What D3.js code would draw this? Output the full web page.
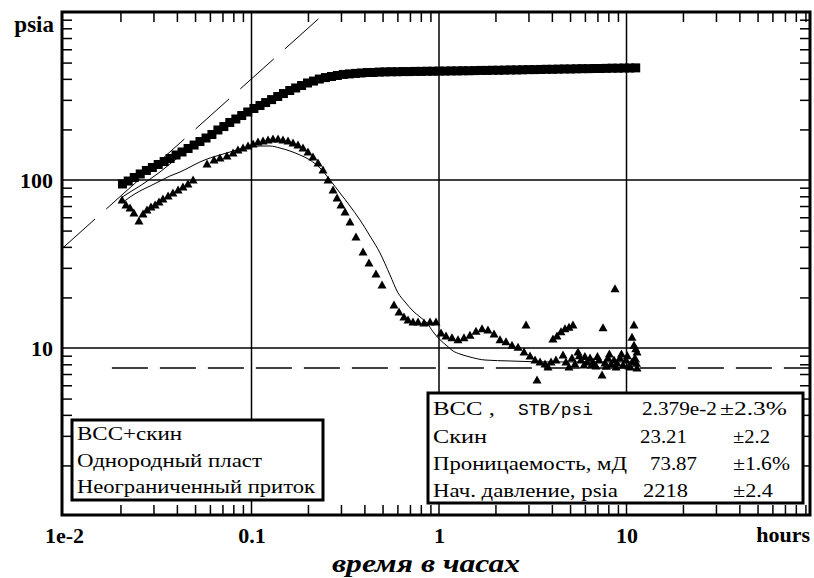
<!DOCTYPE html>
<html><head><meta charset="utf-8">
<script src="https://cdn.jsdelivr.net/npm/d3@7"></script>
<style>body{margin:0;background:#fff}svg{display:block}</style></head>
<body><svg id="c" width="814" height="578"></svg>
<script>
// ---------- DATA ----------
const pressureData = [[0.0205,94.7],[0.022,98.6],[0.0237,103.5],[0.0255,108.6],[0.0275,114],[0.0296,118.7],[0.0318,123.7],[0.0342,128.8],[0.0368,134.3],[0.0396,140.9],[0.0426,146.8],[0.0459,154],[0.0494,161.5],[0.0531,169.4],[0.0572,177.8],[0.0615,186.6],[0.0662,198.5],[0.0712,208],[0.0766,219.9],[0.0825,230.7],[0.0887,242],[0.0955,254],[0.103,266.5],[0.111,277.6],[0.119,289],[0.128,301],[0.138,314],[0.148,327],[0.160,341],[0.172,353],[0.185,365],[0.199,378],[0.214,388],[0.230,399],[0.248,407],[0.267,413],[0.287,419],[0.309,425],[0.333,428],[0.358,431],[0.385,433.5],[0.415,436.5],[0.446,436.5],[0.480,439],[0.517,440],[0.556,441],[0.598,441],[0.644,442],[0.693,442],[0.746,443],[0.802,443],[0.863,444],[0.929,444],[1.00,445],[1.08,445],[1.16,446],[1.25,446],[1.34,447],[1.44,447],[1.55,448],[1.67,449],[1.80,449],[1.93,450],[2.08,450],[2.24,451],[2.41,452],[2.59,452],[2.79,453],[3.00,454],[3.23,454],[3.48,455],[3.74,456],[4.03,456],[4.33,457],[4.66,458],[5.02,458],[5.40,459],[5.81,460],[6.25,460],[6.73,461],[7.24,461],[7.79,462],[8.38,463],[9.02,463],[9.71,464],[10.4,464],[11.2,465]];

const derivativeData = [[0.0204,76.0],[0.0214,71.0],[0.0225,68.1],[0.0236,63.6],[0.0251,57.0],[0.0264,62.8],[0.0277,66.3],[0.0291,69.1],[0.0306,71.0],[0.0321,74.0],[0.0337,77.1],[0.0359,80.3],[0.0381,83.7],[0.0406,87.2],[0.0431,90.8],[0.0458,94.7],[0.0488,100],[0.0579,124.5],[0.0631,131.5],[0.0679,135.2],[0.0740,139],[0.0797,144.8],[0.0847,150.9],[0.0901,155],[0.0958,159.3],[0.1019,163.8],[0.1083,168.4],[0.1152,170.7],[0.1225,173],[0.1302,175.4],[0.1385,175.4],[0.1472,173],[0.1566,170.7],[0.1665,166],[0.1770,161.6],[0.1882,155],[0.2001,146.8],[0.2128,137],[0.2263,126.3],[0.2406,114.7],[0.2559,100],[0.2721,87.2],[0.2858,78.1],[0.3001,71.0],[0.3154,64.5],[0.3352,56.2],[0.3608,45.8],[0.3933,37.3],[0.4233,32.1],[0.4613,27.6],[0.4966,23.7],[0.5754,18.0],[0.6119,16.4],[0.6506,15.3],[0.6834,14.7],[0.7266,14.3],[0.7727,14.3],[0.8318,14.1],[0.8954,14.3],[0.9638,14.3],[1.025,12.3],[1.090,11.8],[1.173,11.5],[1.263,11.2],[1.359,11.5],[1.463,11.9],[1.575,12.6],[1.696,13.0],[1.825,12.8],[1.965,12.1],[2.115,11.2],[2.277,10.9],[2.451,10.4],[2.639,10.1],[2.841,9.47],[2.911,13.7],[3.058,8.96],[3.251,8.48],[3.332,6.45],[3.457,8.26],[3.676,8.03],[3.814,7.71],[3.957,8.26],[4.055,11.3],[4.207,8.48],[4.259,11.8],[4.474,12.5],[4.585,9.09],[4.699,13.0],[4.757,8.26],[4.935,13.3],[4.935,7.71],[5.12,8.72],[5.184,13.7],[5.31,8.03],[5.511,9.47],[5.6,9.0],[5.718,8.48],[5.933,7.92],[6.0,8.9],[6.156,8.26],[6.388,8.72],[6.5,7.9],[6.628,8.26],[6.877,7.81],[7.0,8.9],[7.135,8.48],[7.403,6.91],[7.494,13.2],[7.68,8.14],[7.8,7.8],[7.97,8.72],[8.1,9.2],[8.27,8.03],[8.58,8.48],[8.684,22.5],[8.8,7.7],[8.90,8.14],[9.23,8.72],[9.4,9.2],[9.58,7.92],[9.94,8.48],[10.1,9.0],[10.31,7.81],[10.5,7.7],[10.70,8.26],[10.70,11.6],[10.96,13.7],[10.96,10.4],[11.10,8.72],[11.2,9.9],[11.3,8.1],[11.38,9.47],[11.38,7.6]];

const modelPressure = [[0.0201,78.1],[0.0225,84.8],[0.0254,92.1],[0.0288,101.4],[0.0325,111.6],[0.0367,124.5],[0.0416,139],[0.047,155],[0.0531,169],[0.0601,183],[0.0679,200],[0.0768,220],[0.0868,240],[0.0982,258],[0.111,278],[0.1255,298],[0.1419,318],[0.1604,340],[0.1814,362],[0.2051,382],[0.2319,398],[0.2622,411],[0.2965,420],[0.3352,428],[0.379,433],[0.4285,437],[0.5,440],[1,445],[2,450],[5,458],[11.8,465]];

const modelDerivative = [[0.0204,73.0],[0.0225,79.2],[0.0254,86.0],[0.0288,92.1],[0.0325,98.6],[0.0367,105.6],[0.0416,111.6],[0.0470,119.5],[0.0531,128],[0.0601,135.2],[0.0679,140.9],[0.0768,146.8],[0.0868,153],[0.0982,157.1],[0.1110,159.3],[0.1255,159.3],[0.1419,155],[0.1604,148.8],[0.1814,140.9],[0.2051,131.5],[0.2319,117.9],[0.2622,100],[0.2965,83.7],[0.3352,70.0],[0.3790,57.8],[0.4285,46.4],[0.4845,36.8],[0.5478,27.2],[0.6044,21.3],[0.6588,18.8],[0.7266,16.6],[0.7920,15.3],[0.8630,14.1],[0.9290,12.5],[1.012,11.2],[1.103,10.3],[1.188,9.60],[1.294,9.21],[1.463,8.84],[1.759,8.48],[2.391,8.37],[3.908,8.26],[7.224,8.26],[11.80,8.26]];

const unitSlopeLine = [[0.0097,38.8],[0.25,1000]];
const radialLine = [[0.018,7.6],[100,7.6]];

const xMajorTicks = [0.01, 0.1, 1, 10];
const xTickLabels = ["1e-2", "0.1", "1", "10"];
const xUnitLabel = "hours";
const yMajorTicks = [10, 100];
const yTickLabels = ["10", "100"];
const yUnitLabel = "psia";
const xTitle = "время в часах";

const modelLegend = ["ВСС+скин", "Однородный пласт", "Неограниченный приток"];
const paramNames = ["Скин", "Проницаемость, мД", "Нач. давление, psia"];
const paramValues = ["2.379e-2", "23.21", "73.87", "2218"];
const paramErrors = ["±2.3%", "±2.2", "±1.6%", "±2.4"];

// ---------- LAYOUT ----------
const SERIF = "'Liberation Serif','Times New Roman','DejaVu Serif',serif";
const L = 62, R = 810, T = 12, B = 515;
const svg = d3.select("#c");
const x = d3.scaleLog().domain([0.01, 10]).range([64, 626.5]);
const y = d3.scaleLog().domain([1, 1000]).range([516, 12]);

const minorX = [];
[0.01, 0.1, 1, 10].forEach(d => { for (let k = 2; k <= 9; k++) minorX.push(+(d * k).toPrecision(3)); });
const minorY = [];
[1, 10, 100].forEach(d => { for (let k = 2; k <= 9; k++) minorY.push(d * k); });

svg.append("rect").attr("width", 814).attr("height", 578).attr("fill", "#fff");

svg.append("defs").append("clipPath").attr("id", "clip")
  .append("rect").attr("x", L).attr("y", T).attr("width", R - L).attr("height", B - T);

// grid lines
const grid = svg.append("g").attr("stroke", "#000").attr("stroke-width", 1.5);
[0.1, 1, 10].forEach(v => grid.append("line").attr("x1", x(v)).attr("x2", x(v)).attr("y1", T).attr("y2", B));
yMajorTicks.forEach(v => grid.append("line").attr("x1", L).attr("x2", R).attr("y1", y(v)).attr("y2", y(v)));

// ticks (inward)
function styleAxis(g) { g.select(".domain").remove(); g.selectAll("text").remove(); g.selectAll("line").attr("stroke", "#000").attr("stroke-width", 1.5); }
svg.append("g").attr("transform", `translate(0,${B})`).call(d3.axisBottom(x).tickValues(minorX).tickSize(-10)).call(styleAxis);
svg.append("g").attr("transform", `translate(0,${T})`).call(d3.axisTop(x).tickValues(minorX).tickSize(-10)).call(styleAxis);
svg.append("g").attr("transform", `translate(${L},0)`).call(d3.axisLeft(y).tickValues(minorY).tickSize(-10)).call(styleAxis);
svg.append("g").attr("transform", `translate(${R},0)`).call(d3.axisRight(y).tickValues(minorY).tickSize(-10)).call(styleAxis);

const plot = svg.append("g").attr("clip-path", "url(#clip)");
const line = d3.line().x(d => x(d[0])).y(d => y(d[1]));
const smooth = d3.line().x(d => x(d[0])).y(d => y(d[1])).curve(d3.curveMonotoneX);

plot.append("path").attr("d", line(unitSlopeLine)).attr("fill", "none").attr("stroke", "#000").attr("stroke-width", 1).attr("stroke-dasharray", "45,15");
plot.append("path").attr("d", line(radialLine)).attr("fill", "none").attr("stroke", "#000").attr("stroke-width", 1.3).attr("stroke-dasharray", "36,12");

// squares
plot.append("g").selectAll("rect").data(pressureData).join("rect")
  .attr("x", d => x(d[0]) - 4.5).attr("y", d => y(d[1]) - 4.5).attr("width", 9).attr("height", 9).attr("fill", "#000");
// model lines
plot.append("path").attr("d", smooth(modelPressure)).attr("fill", "none").attr("stroke", "#000").attr("stroke-width", 1);
plot.append("path").attr("d", smooth(modelDerivative)).attr("fill", "none").attr("stroke", "#000").attr("stroke-width", 1);
// triangles
plot.append("g").selectAll("path").data(derivativeData).join("path")
  .attr("transform", d => `translate(${x(d[0])},${y(d[1])})`)
  .attr("d", "M0,-4.5L4.5,3.5L-4.5,3.5Z").attr("fill", "#000");

// frame
svg.append("rect").attr("x", L).attr("y", T).attr("width", R - L).attr("height", B - T)
  .attr("fill", "none").attr("stroke", "#000").attr("stroke-width", 3);

// axis labels
function labelStyle(g) {
  g.select(".domain").remove();
  g.attr("font-family", SERIF).attr("font-size", 22);
  g.selectAll("text").attr("font-family", SERIF).attr("font-weight", "bold").attr("font-size", 22).attr("fill", "#000");
}
svg.append("g").attr("transform", `translate(0,${B})`)
  .call(d3.axisBottom(x).tickValues(xMajorTicks).tickSize(0).tickPadding(12).tickFormat((d, i) => xTickLabels[i]))
  .call(labelStyle);
svg.append("g").attr("transform", `translate(${L},0)`)
  .call(d3.axisLeft(y).tickValues(yMajorTicks).tickSize(0).tickPadding(9).tickFormat((d, i) => yTickLabels[i]))
  .call(labelStyle);
const lab = svg.append("g").attr("font-family", SERIF).attr("font-weight", "bold").attr("font-size", 22).attr("fill", "#000");
lab.append("text").attr("x", R).attr("y", 542).attr("text-anchor", "end").text(xUnitLabel);
lab.append("text").attr("x", 54).attr("y", 32).attr("text-anchor", "end").attr("font-size", 23).text(yUnitLabel);

svg.append("text").attr("x", 426).attr("y", 572).attr("text-anchor", "middle")
  .attr("font-family", SERIF).attr("font-weight", "bold").attr("font-style", "italic")
  .attr("font-size", 26).attr("textLength", 188).attr("lengthAdjust", "spacingAndGlyphs").text(xTitle);

// legend box (left)
const lg = svg.append("g").attr("font-family", SERIF).attr("font-size", 19).attr("fill", "#000");
lg.append("rect").attr("x", 72).attr("y", 420).attr("width", 251).attr("height", 80).attr("fill", "#fff").attr("stroke", "#000").attr("stroke-width", 3);
const legW = [105, 185, 238];
modelLegend.forEach((t, i) => lg.append("text").attr("x", 77).attr("y", 440 + i * 26.5)
  .attr("textLength", legW[i]).attr("lengthAdjust", "spacingAndGlyphs").text(t));

// parameter box (right)
const pg = svg.append("g").attr("font-family", SERIF).attr("font-size", 19).attr("fill", "#000");
pg.append("rect").attr("x", 428).attr("y", 393).attr("width", 375).attr("height", 110).attr("fill", "#fff").attr("stroke", "#000").attr("stroke-width", 3);
const rowY = [415, 443, 470, 497];
pg.append("text").attr("x", 433).attr("y", rowY[0]).attr("textLength", 62).attr("lengthAdjust", "spacingAndGlyphs").text("ВСС ,");
pg.append("text").attr("x", 518).attr("y", rowY[0]).attr("font-family", "'Liberation Mono', monospace").attr("font-size", 17)
  .attr("textLength", 75).attr("lengthAdjust", "spacingAndGlyphs").text("STB/psi");
const nameW = [54, 194, 185];
paramNames.forEach((t, i) => pg.append("text").attr("x", 433).attr("y", rowY[i + 1])
  .attr("textLength", nameW[i]).attr("lengthAdjust", "spacingAndGlyphs").text(t));
const valX = [642, 640, 650, 643], valW = [75, 47, 47, 45];
paramValues.forEach((t, i) => pg.append("text").attr("x", valX[i]).attr("y", rowY[i])
  .attr("textLength", valW[i]).attr("lengthAdjust", "spacingAndGlyphs").text(t));
const errX = [720, 733, 733, 733], errW = [67, 37, 57, 40];
paramErrors.forEach((t, i) => pg.append("text").attr("x", errX[i]).attr("y", rowY[i])
  .attr("textLength", errW[i]).attr("lengthAdjust", "spacingAndGlyphs").text(t));
</script></body></html>
